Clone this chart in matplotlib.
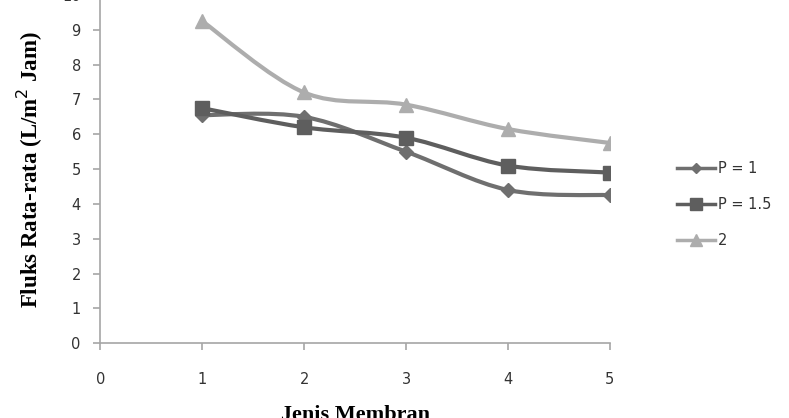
import numpy as np
import matplotlib.pyplot as plt
from matplotlib.path import Path
from matplotlib.patches import PathPatch
from matplotlib.lines import Line2D

# data
membran = [1, 2, 3, 4, 5]
p1 = [6.55, 6.5, 5.5, 4.4, 4.25]
p15 = [6.75, 6.2, 5.9, 5.1, 4.9]
p2 = [9.25, 7.2, 6.85, 6.15, 5.75]
labels = ['P = 1', 'P = 1.5', '2']

colors = ['#6f6f6f', '#5e5e5e', '#adadad']
markers = ['D', 's', '^']
msizes = [7, 10, 10]


def smooth_path(x, y):
    # Excel-style smoothed line: catmull-rom segments as cubic beziers
    x = np.asarray(x, float)
    y = np.asarray(y, float)
    verts = [(x[0], y[0])]
    codes = [Path.MOVETO]
    n = len(x)
    for i in range(n - 1):
        i0 = max(i - 1, 0)
        i3 = min(i + 2, n - 1)
        c1 = (x[i] + (x[i + 1] - x[i0]) / 6, y[i] + (y[i + 1] - y[i0]) / 6)
        c2 = (x[i + 1] - (x[i3] - x[i]) / 6, y[i + 1] - (y[i3] - y[i]) / 6)
        verts += [c1, c2, (x[i + 1], y[i + 1])]
        codes += [Path.CURVE4] * 3
    return Path(verts, codes)


fig = plt.figure(figsize=(7.89, 4.18), dpi=100)
ax = fig.add_axes([0.127, 0.179, 0.646, 0.833])

handles = []
for ys, c, m, ms, lab in zip([p1, p15, p2], colors, markers, msizes, labels):
    patch = PathPatch(smooth_path(membran, ys), facecolor='none', edgecolor=c, lw=3, zorder=2)
    ax.add_patch(patch)
    ax.plot(membran, ys, linestyle='none', marker=m, color=c, markersize=ms, zorder=3)
    handles.append(Line2D([], [], color=c, lw=2.5, marker=m, markersize=ms - 2, label=lab))

ax.set_xlim(0, 5)
ax.set_ylim(0, 10)
ax.set_xticks(range(0, 6))
ax.set_yticks(range(0, 11))

for side in ['top', 'right']:
    ax.spines[side].set_visible(False)
for side in ['left', 'bottom']:
    ax.spines[side].set_color('#a6a6a6')
    ax.spines[side].set_linewidth(1.2)
ax.tick_params(colors='#a6a6a6', length=5, width=1.2, labelcolor='#333333', labelsize=10.5)
ax.tick_params(axis='x', pad=16)
ax.tick_params(axis='y', pad=9)

ax.set_ylabel('Fluks Rata-rata (L/m$^2$ Jam)', family='Liberation Serif', fontweight='bold',
              fontsize=16.5, labelpad=12)
ax.set_xlabel('Jenis Membran', family='Liberation Serif', fontweight='bold', fontsize=16, labelpad=13)

fig.legend(handles=handles, loc='center left', bbox_to_anchor=(0.842, 0.51), frameon=False,
           fontsize=10.5, labelcolor='#333333', handlelength=2.6, handletextpad=0.2,
           labelspacing=1.45)

fig.savefig('out.png', dpi=100)
